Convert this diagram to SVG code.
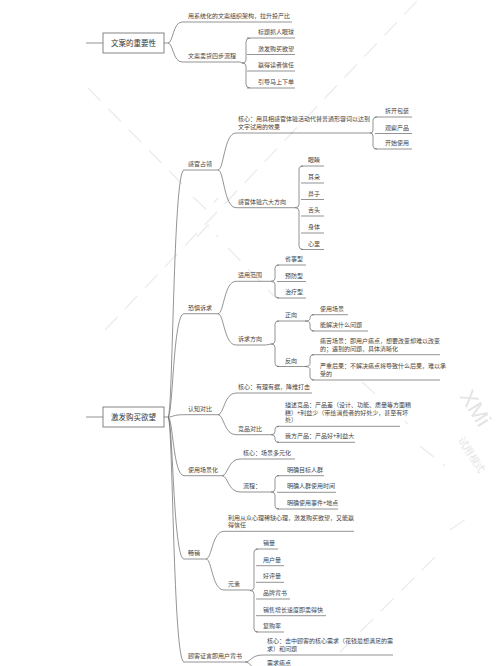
<svg xmlns="http://www.w3.org/2000/svg" width="500" height="666" viewBox="0 0 500 666">
<style>
.t{font-family:"Noto Sans CJK SC","Noto Sans",sans-serif;font-size:6px;fill:#444}
.b{font-size:7.5px;fill:#333}
.ln{fill:none;stroke:#666;stroke-width:0.7}
.box{fill:#fff;stroke:#666;stroke-width:0.8}
.wm{fill:none;stroke:#ebebeb;stroke-width:1.3;stroke-dasharray:18 11}
.wt{font-family:"Liberation Sans",sans-serif;fill:#e4e4e4}
</style>
<rect width="500" height="666" fill="#fff"/>
<g id="watermark">
<path class="wm" d="M105 330L418 0"/>
<path class="wm" d="M88 88L186 188"/>
<path class="wm" d="M193 197L207 210L218 198"/>
<path class="wm" d="M197 237L208 225L218 237"/>
<path class="wm" d="M228 248L276 298"/>
<path class="wm" d="M362 382L408 424"/>
<path class="wm" d="M420 446L445 466"/>
<path class="wm" d="M340 652L440 552"/>
<path class="wm" d="M450 530L470 516"/>
<text class="wt" font-size="22" transform="translate(459,396) rotate(58)">XMi</text>
<text class="wt" font-family="Noto Sans CJK SC" font-size="10" transform="translate(458,440) rotate(58)">试用模式</text>
</g>
<g id="connectors" class="ln">
<path d="M86 43H103"/>
<path d="M86 417H103"/>
<path d="M164 43H168C173 43 173 22 182 22H292"/>
<path d="M168 43C173 43 173 62 182 62H240L242 63"/>
<path d="M250 38Q246 38 246 42V60Q246 63 242 63Q246 63 246 66V84Q246 88 250 88"/>
<path d="M247 38H295M247 54.5H295M247 71H295M247 88H295"/>
<path d="M164 417H168"/>
<path d="M168 417C173 417 173 170 184 170H218"/>
<path d="M168 417C173 417 173 313.7 184 313.7H218"/>
<path d="M168 417C173 417 173 414.7 184 414.7H218"/>
<path d="M168 417C173 417 173 475.7 184 475.7H222"/>
<path d="M168 417C173 417 173 559 184 559H206"/>
<path d="M168 417C173 417 173 662 184 662H245"/>
<path d="M218 170C224 170 224 133 236 133H368L370 133"/>
<path d="M218 170C224 170 224 207.7 236 207.7H290L295 207.7"/>
<path d="M377 117Q373 117 373 120V130Q373 133 370 133Q373 133 373 136V146Q373 149 377 149"/>
<path d="M375 117H412M375 133.5H412M375 149H412"/>
<path d="M303 166Q299 166 299 169V204.5Q299 207.7 295 207.7Q299 207.7 299 211V246Q299 249.5 303 249.5"/>
<path d="M301 166H324M301 183H324M301 199.5H324M301 216H324M301 233H324M301 249.5H324"/>
<path d="M218 313.7C224 313.7 224 281.3 236 281.3H266L271 281.3"/>
<path d="M218 313.7C224 313.7 224 345 236 345H266L271 344"/>
<path d="M279 265Q275 265 275 268V278.3Q275 281.3 271 281.3Q275 281.3 275 284.3V295Q275 298 279 298"/>
<path d="M277 265H306M277 281.5H306M277 298H306"/>
<path d="M279 321Q275 321 275 324V341Q275 344 271 344Q275 344 275 347V363.5Q275 366.5 279 366.5"/>
<path d="M277 321H300L305 321"/>
<path d="M277 366.5H300L305 366.5"/>
<path d="M314 314.7Q310 314.7 310 317.5V318.5Q310 321 305 321Q310 321 310 324V328Q310 331 314 331"/>
<path d="M312 314.7H348M312 331H368"/>
<path d="M314 354.7Q310 354.7 310 357.7V363.5Q310 366.5 305 366.5Q310 366.5 310 369.5V377Q310 380 314 380"/>
<path d="M312 354.7H440M312 380H440"/>
<path d="M218 414.7C224 414.7 224 393 236 393H312"/>
<path d="M218 414.7C224 414.7 224 434.7 236 434.7H266L271 434.7"/>
<path d="M279 426.3Q275 426.3 275 429.3V431.7Q275 434.7 271 434.7Q275 434.7 275 437.7V439.3Q275 442.3 279 442.3"/>
<path d="M277 426.3H400M277 442.3H355"/>
<path d="M222 475.7C228 475.7 228 459 240 459H295"/>
<path d="M222 475.7C228 475.7 228 492 240 492H266L271 492"/>
<path d="M279 475.7Q275 475.7 275 478.7V489Q275 492 271 492Q275 492 275 495V506Q275 509 279 509"/>
<path d="M277 475.7H324M277 492.3H336M277 509H338"/>
<path d="M206 559C212 559 212 531.3 224 531.3H354"/>
<path d="M206 559C212 559 212 590 224 590H246L250 590"/>
<path d="M258 549Q254 549 254 552V587.5Q254 590.5 250 590.5Q254 590.5 254 593.5V629Q254 632 258 632"/>
<path d="M256 549H278M256 565.7H284M256 582.3H284M256 599H290M256 615.7H326M256 632H284"/>
<path d="M245 662C251 662 251 655 263 655H393"/>
<path d="M245 662C251 662 251 670 263 670H300"/>
</g>
<g id="n-wenan-zhongyao">
<rect class="box" x="103" y="33" width="61" height="20"/>
<text class="t b" x="133.5" y="45.8" text-anchor="middle">文案的重要性</text>
</g>
<g id="n-xitong"><text class="t" x="188" y="18">用系统化的文案组织架构，拉升投产比</text></g>
<g id="n-sibu"><text class="t" x="188" y="58">文案卖货四步流程</text></g>
<g id="n-sibu-items">
<text class="t" x="258" y="34">标题抓人眼球</text>
<text class="t" x="258" y="50.5">激发购买欲望</text>
<text class="t" x="258" y="67">赢得读者信任</text>
<text class="t" x="258" y="84">引导马上下单</text>
</g>
<g id="n-jifa">
<rect class="box" x="103" y="407" width="61" height="20"/>
<text class="t b" x="133.5" y="419.8" text-anchor="middle">激发购买欲望</text>
</g>
<g id="n-ganguan"><text class="t" x="188" y="166">感官占领</text></g>
<g id="n-ganguan-hexin">
<text class="t" x="238" y="120.5">核心：用具相感官体验活动代替普通形容词以达到</text>
<text class="t" x="238" y="128.7">文字试用的效果</text>
</g>
<g id="n-hexin-items">
<text class="t" x="385" y="113">拆开包装</text>
<text class="t" x="385" y="129.5">观察产品</text>
<text class="t" x="385" y="145">开始使用</text>
</g>
<g id="n-liuda"><text class="t" x="238" y="203.7">感官体验六大方向</text></g>
<g id="n-liuda-items">
<text class="t" x="308" y="162">眼睛</text>
<text class="t" x="308" y="179">耳朵</text>
<text class="t" x="308" y="195.5">鼻子</text>
<text class="t" x="308" y="212">舌头</text>
<text class="t" x="308" y="229">身体</text>
<text class="t" x="308" y="245.5">心里</text>
</g>
<g id="n-kongju"><text class="t" x="188" y="309.7">恐惧诉求</text></g>
<g id="n-shiyong"><text class="t" x="238" y="277.3">适用范围</text></g>
<g id="n-shiyong-items">
<text class="t" x="285" y="261">省事型</text>
<text class="t" x="285" y="277.5">预防型</text>
<text class="t" x="285" y="294">治疗型</text>
</g>
<g id="n-suqiu"><text class="t" x="238" y="341">诉求方向</text></g>
<g id="n-zhengxiang"><text class="t" x="285" y="317">正向</text></g>
<g id="n-zhengxiang-items">
<text class="t" x="320" y="310.7">使用场景</text>
<text class="t" x="320" y="327">能解决什么问题</text>
</g>
<g id="n-fanxiang"><text class="t" x="285" y="362.5">反向</text></g>
<g id="n-tongku">
<text class="t" x="320" y="342.8">痛苦场景：即用户痛点，想要改变却难以改变</text>
<text class="t" x="320" y="350.7">的；遇到的问题，具体清晰化</text>
</g>
<g id="n-yanzhong">
<text class="t" x="320" y="368">严重后果：不解决痛点将导致什么后果，难以承</text>
<text class="t" x="320" y="376">受的</text>
</g>
<g id="n-renzhi"><text class="t" x="188" y="410.7">认知对比</text></g>
<g id="n-renzhi-hexin"><text class="t" x="238" y="389">核心：有理有据，降维打击</text></g>
<g id="n-jingpin"><text class="t" x="238" y="430.7">竞品对比</text></g>
<g id="n-miaoshu">
<text class="t" x="285" y="406.7">描述竞品：产品差（设计、功能、质量等方面糟</text>
<text class="t" x="285" y="414.5">糕）+利益少（带给消费者的好处少，甚至有坏</text>
<text class="t" x="285" y="422.3">处）</text>
</g>
<g id="n-wofang"><text class="t" x="285" y="438.3">我方产品：产品好+利益大</text></g>
<g id="n-changjing"><text class="t" x="188" y="471.7">使用场景化</text></g>
<g id="n-changjing-hexin"><text class="t" x="243" y="455">核心：场景多元化</text></g>
<g id="n-liucheng"><text class="t" x="243" y="488">流程：</text></g>
<g id="n-liucheng-items">
<text class="t" x="287" y="471.7">明确目标人群</text>
<text class="t" x="287" y="488.3">明确人群使用时间</text>
<text class="t" x="287" y="505">明确使用事件+地点</text>
</g>
<g id="n-changxiao"><text class="t" x="188" y="555">畅销</text></g>
<g id="n-liyong">
<text class="t" x="228" y="519.5">利用从众心理稀缺心理，激发购买欲望，又能赢</text>
<text class="t" x="228" y="527.3">得信任</text>
</g>
<g id="n-yuansu"><text class="t" x="228" y="586">元素</text></g>
<g id="n-yuansu-items">
<text class="t" x="263" y="545">销量</text>
<text class="t" x="263" y="561.7">用户量</text>
<text class="t" x="263" y="578.3">好评量</text>
<text class="t" x="263" y="595">品牌背书</text>
<text class="t" x="263" y="611.7">销售增长速度即卖得快</text>
<text class="t" x="263" y="628">复购率</text>
</g>
<g id="n-guke"><text class="t" x="188" y="658">顾客证言即用户背书</text></g>
<g id="n-guke-hexin">
<text class="t" x="267" y="643">核心：击中顾客的核心需求（花钱最想满足的需</text>
<text class="t" x="267" y="651">求）和问题</text>
</g>
<g id="n-xuqiu"><text class="t" x="267" y="664.8">需求痛点</text></g>
</svg>
